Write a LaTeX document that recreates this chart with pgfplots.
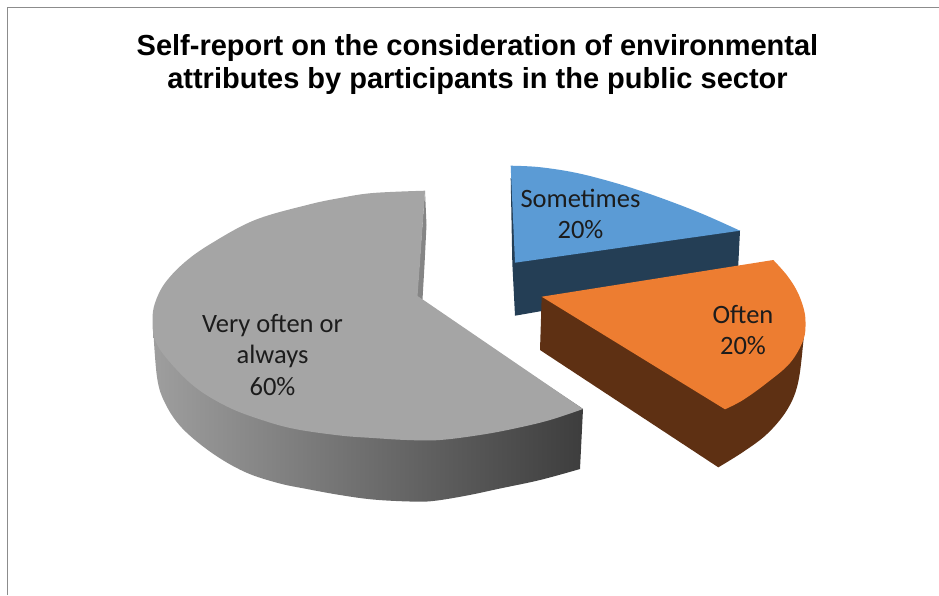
\documentclass[border=0pt]{standalone}
\usepackage{fontspec}
\usepackage{pgfplots}
\pgfplotsset{compat=1.18}
\setmainfont{Liberation Sans}
\newfontfamily\labelfont{Carlito}

\definecolor{blueTop}{HTML}{5B9BD5}
\definecolor{blueSide}{HTML}{243E55}
\definecolor{orangeTop}{HTML}{ED7D31}
\definecolor{orangeSide}{HTML}{5E3013}
\definecolor{greyTop}{HTML}{A5A5A5}
\definecolor{frameLine}{HTML}{8C8C8C}
\definecolor{labelInk}{HTML}{1C1C1C}

\begin{document}
\begin{tikzpicture}
\begin{axis}[
    scale only axis, width=939pt, height=595pt,
    xmin=0, xmax=939, ymin=0, ymax=595, y dir=reverse,
    hide axis, clip=true,
    every axis plot/.append style={no markers, line width=0pt},
]
% keeps the page as large as the whole axis area
\path[use as bounding box] (axis cs:0,0) rectangle (axis cs:939,595);

% chart frame, open at the right and the bottom
\addplot[draw=frameLine, line width=1.2pt] coordinates {(7.5,595) (7.5,7.5) (939,7.5)};

% Sometimes: 20%
\addplot[fill=blueSide, draw=none] coordinates {
    (510.7,178) (512.3,263) (515,315.7) (542,311) (737,290) (740,230.7)} -- cycle;
\addplot[fill=blueTop, draw=none, smooth, tension=0.6] coordinates {
    (510.7,165.7) (538,167) (572,172) (605,180) (638,190) (672,202) (705,215) (740,230.7)}
    -- (axis cs:515,262.7) -- (axis cs:511.5,185) -- cycle;

% Very often or always: 60%
\addplot[left color=black!38, middle color=black!58, right color=black!76, draw=none, smooth, tension=0.6] coordinates {
    (153,325) (157,377) (165,403) (182,428) (212,453) (245,472) (278,483) (307,489)
    (340,495) (373,499.5) (410,501.5) (433,501) (467,495.5) (500,488.5) (540,480) (580,469)}
    -- (axis cs:583,409) -- (axis cs:420,300) -- cycle;
\addplot[fill=black!48, draw=none] coordinates {
    (425,191) (426.5,225) (424.5,265) (422.5,299.5) (417,296.5)} -- cycle;
\addplot[fill=greyTop, draw=none, smooth, tension=0.6] coordinates {
    (425,190.7) (373,193) (340,198) (307,205) (255,220) (212,243) (185,262) (165,283)
    (155,303) (152.5,320) (155,340) (168,360) (195,387) (228,407) (262,420) (295,429)
    (340,435.5) (373,438) (407,440) (440,440) (483,434.5) (517,428) (550,420) (583,409)}
    -- (axis cs:422,299) -- (axis cs:417.5,296) -- cycle;

% Often: 20%
\addplot[fill=orangeSide, draw=none, smooth, tension=0.6] coordinates {
    (805,320) (803.5,340) (798,383) (787,410) (767,434) (743,452) (718.3,467.3)}
    -- (axis cs:540,350) -- (axis cs:541.7,296.7) -- cycle;
\addplot[fill=orangeTop, draw=none, smooth, tension=0.6] coordinates {
    (773.3,260) (786.7,275) (797,291) (803.5,308) (805.5,322) (803.3,340) (790,363)
    (766.7,383) (743,400) (725,409.3)}
    -- (axis cs:541.7,296.7) -- cycle;

% title and slice labels
\node[anchor=base, inner sep=0pt, font=\fontsize{29}{29}\selectfont\bfseries] at (axis cs:477.5,55.5) {Self-report on the consideration of environmental};
\node[anchor=base, inner sep=0pt, font=\fontsize{29}{29}\selectfont\bfseries] at (axis cs:477.5,88) {attributes by participants in the public sector};

\begin{scope}[every node/.style={anchor=base, inner sep=0pt, text=labelInk, font=\labelfont\fontsize{26.5}{27}\selectfont}]
\node at (axis cs:580.5,207) {Sometimes};
\node at (axis cs:580.5,238) {20\%};
\node at (axis cs:743,323) {Often};
\node at (axis cs:743,354) {20\%};
\node at (axis cs:272.5,332) {Very often or};
\node at (axis cs:272.5,363) {always};
\node at (axis cs:272.5,395) {60\%};
\end{scope}
\end{axis}
\end{tikzpicture}
\end{document}
